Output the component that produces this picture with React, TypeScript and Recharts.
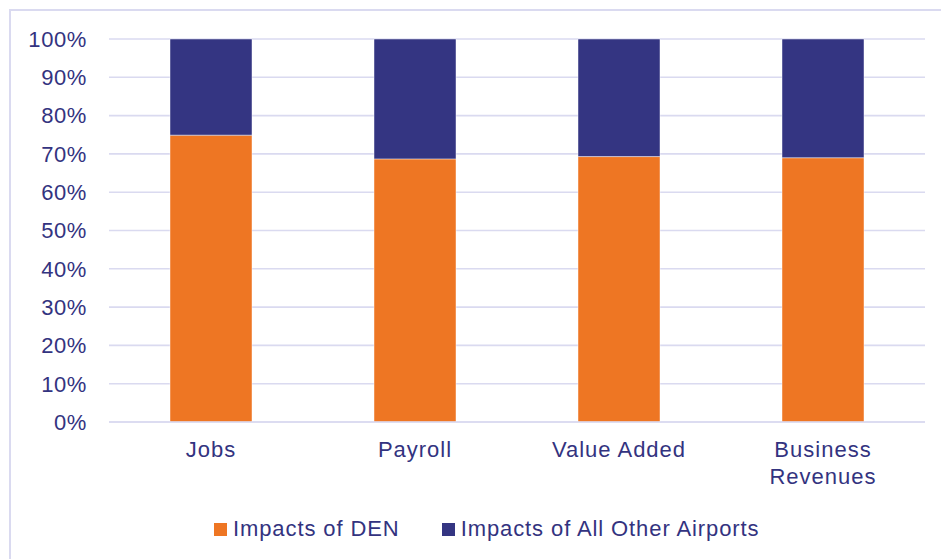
import React from "react";
import {
  BarChart,
  Bar,
  XAxis,
  YAxis,
  CartesianGrid,
  Legend,
} from "recharts";

const CATEGORIES = ["Jobs", "Payroll", "Value Added", "Business Revenues"];
const DEN_SHARE = [74.9, 68.7, 69.3, 69.0];
const OTHER_SHARE = [25.1, 31.3, 30.7, 31.0];
const Y_TICKS = [0, 10, 20, 30, 40, 50, 60, 70, 80, 90, 100];

const SERIES = [
  { key: "den", name: "Impacts of DEN", color: "#EE7623" },
  { key: "other", name: "Impacts of All Other Airports", color: "#343582" },
];

const TEXT = "#33337F";
const GRID = "#DADAF0";
const FONT = '"Liberation Sans", Arial, sans-serif';

const data = CATEGORIES.map((name, i) => ({
  name,
  den: DEN_SHARE[i],
  other: OTHER_SHARE[i],
}));

const CategoryTick = (props: any) => {
  const { x, y, payload } = props;
  const label: string = payload.value;
  const lines = label.length > 12 ? label.split(" ") : [label];
  return (
    <text
      x={x}
      y={y}
      textAnchor="middle"
      fill={TEXT}
      fontSize={22}
      fontFamily={FONT}
      letterSpacing={1}
    >
      {lines.map((line, i) => (
        <tspan key={line} x={x} dy={i === 0 ? 35 : 27}>
          {line}
        </tspan>
      ))}
    </text>
  );
};

const renderLegend = () => (
  <div style={{ display: "flex", alignItems: "center", fontFamily: FONT }}>
    {SERIES.map((s, i) => (
      <div
        key={s.key}
        style={{
          display: "flex",
          alignItems: "center",
          marginRight: i === 0 ? 42 : 0,
        }}
      >
        <span
          style={{
            display: "inline-block",
            width: 13,
            height: 13,
            backgroundColor: s.color,
            marginRight: 6,
          }}
        />
        <span
          style={{
            color: TEXT,
            fontSize: 22,
            letterSpacing: 0.9,
            whiteSpace: "nowrap",
            lineHeight: "26px",
          }}
        >
          {s.name}
        </span>
      </div>
    ))}
  </div>
);

export default function App() {
  return (
    <div
      style={{
        position: "absolute",
        left: 0,
        top: 0,
        width: 941,
        height: 559,
        overflow: "hidden",
        background: "#fff",
        fontFamily: FONT,
      }}
    >
      <div
        style={{
          position: "absolute",
          left: 9,
          top: 9,
          width: 960,
          height: 600,
          border: `2px solid ${GRID}`,
        }}
      />
      <BarChart
        width={941}
        height={559}
        data={data}
        margin={{ top: 39, right: 16, bottom: 77, left: 0 }}
        barCategoryGap="30%"
      >
        <CartesianGrid vertical={false} stroke={GRID} strokeWidth={1.6} />
        <XAxis
          dataKey="name"
          height={60}
          tickLine={false}
          tickSize={0}
          tickMargin={0}
          axisLine={{ stroke: GRID, strokeWidth: 1.6 }}
          tick={<CategoryTick />}
          interval={0}
        />
        <YAxis
          width={109}
          domain={[0, 100]}
          ticks={Y_TICKS}
          tickFormatter={(v: number) => `${v}%`}
          tickLine={false}
          axisLine={false}
          tickSize={0}
          tickMargin={22}
          tick={{
            fill: TEXT,
            fontSize: 22,
            fontFamily: FONT,
            letterSpacing: 0.6,
          }}
        />
        <Legend
          layout="vertical"
          align="center"
          verticalAlign="middle"
          content={renderLegend}
          wrapperStyle={{ left: 214, top: 516, width: "auto" }}
        />
        {SERIES.map((s) => (
          <Bar
            key={s.key}
            dataKey={s.key}
            name={s.name}
            stackId="share"
            fill={s.color}
            stroke="#ffffff"
            strokeOpacity={0.45}
            strokeWidth={1}
            barSize={82}
            isAnimationActive={false}
          />
        ))}
      </BarChart>
    </div>
  );
}
